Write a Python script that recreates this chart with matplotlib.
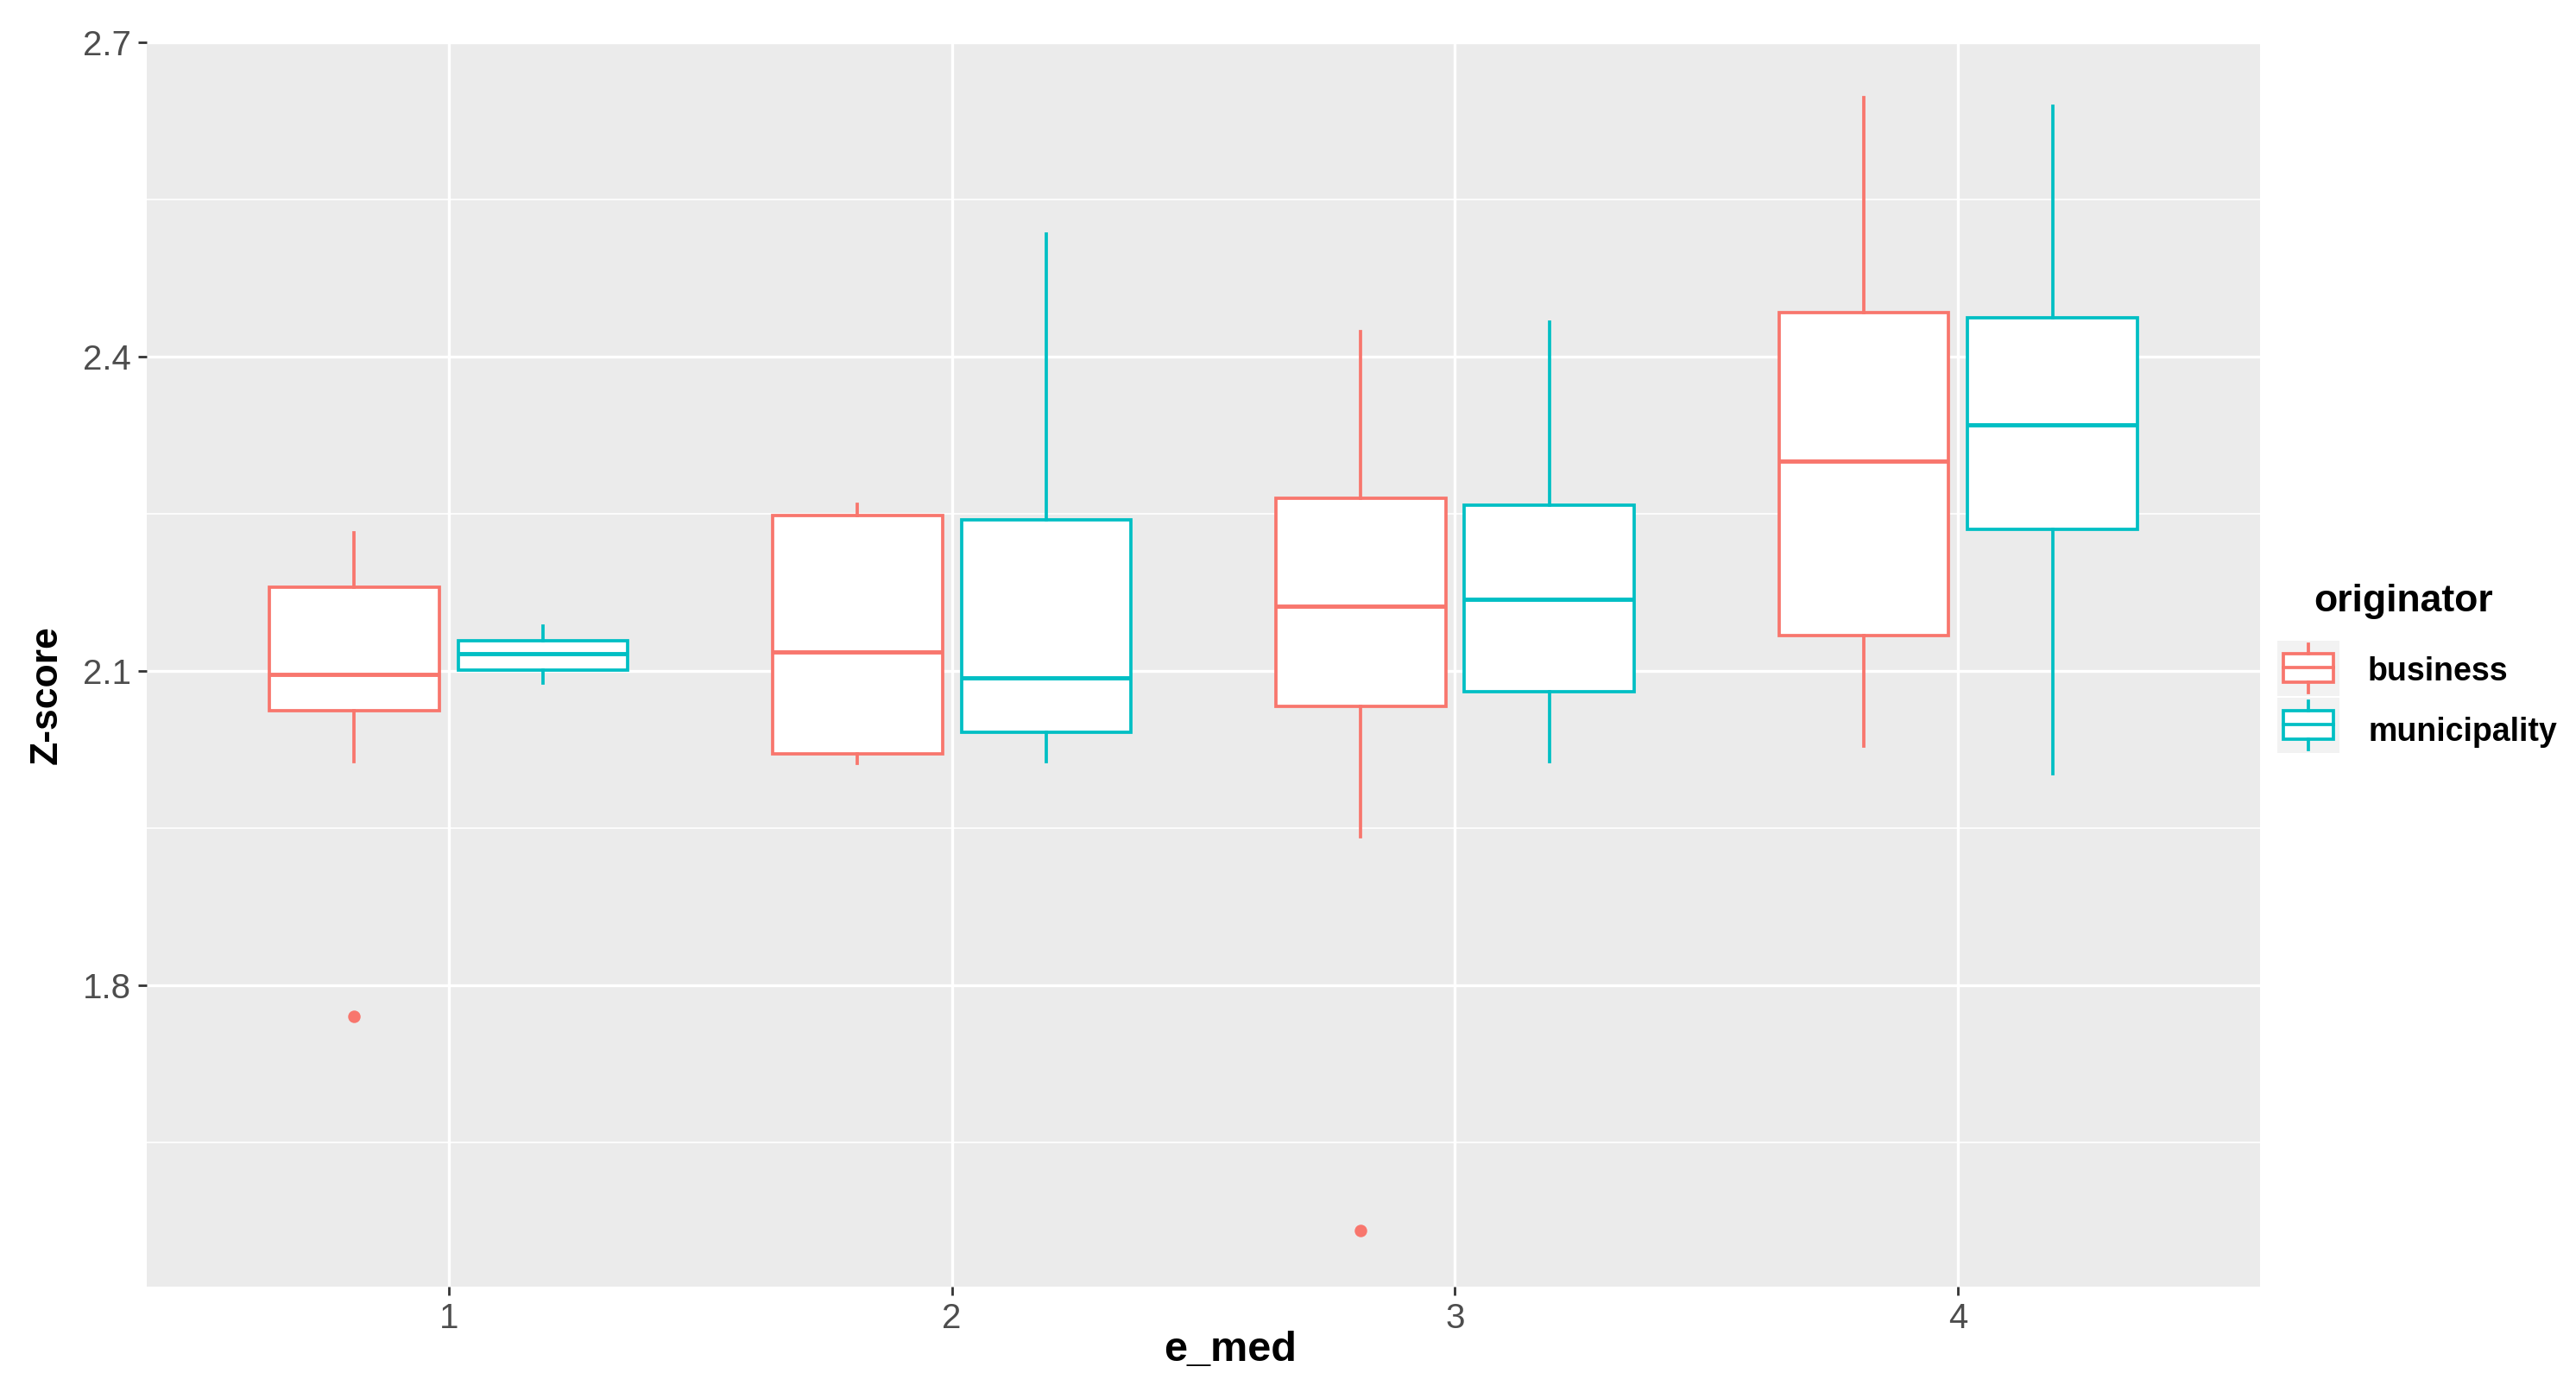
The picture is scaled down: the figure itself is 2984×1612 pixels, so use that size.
import matplotlib
matplotlib.use("Agg")
import matplotlib.pyplot as plt
from matplotlib.patches import Rectangle

plt.rcParams['font.family'] = ['Liberation Sans', 'DejaVu Sans']

# data
groups = ['1', '2', '3', '4']
originators = ['business', 'municipality']
colors = {'business': '#F8766D', 'municipality': '#00BFC4'}

business_low = [2.013, 2.012, 1.942, 2.028]
business_q1 = [2.062, 2.021, 2.066, 2.134]
business_med = [2.097, 2.118, 2.162, 2.300]
business_q3 = [2.180, 2.248, 2.265, 2.442]
business_high = [2.232, 2.259, 2.424, 2.647]
business_out = [[1.770], [], [1.566], []]

muni_low = [2.088, 2.013, 2.013, 2.002]
muni_q1 = [2.101, 2.041, 2.080, 2.235]
muni_med = [2.116, 2.093, 2.168, 2.335]
muni_q3 = [2.129, 2.244, 2.258, 2.437]
muni_high = [2.143, 2.517, 2.433, 2.639]
muni_out = [[], [], [], []]

y_major = [1.8, 2.1, 2.4, 2.7]
y_minor = [1.65, 1.95, 2.25, 2.55]

series = {
    'business': (business_low, business_q1, business_med, business_q3, business_high, business_out),
    'municipality': (muni_low, muni_q1, muni_med, muni_q3, muni_high, muni_out),
}

W, H = 2984, 1612
fig = plt.figure(figsize=(W / 200, H / 200), dpi=200)
ax = fig.add_axes([170 / W, 1 - 1490 / H, 2448 / W, 1442 / H])
ax.set_facecolor('#EBEBEB')
for s in ax.spines.values():
    s.set_visible(False)

lw = 1.35
offsets = {'business': -0.1875, 'municipality': 0.1875}
for name in originators:
    lo, q1, med, q3, hi, out = series[name]
    c = colors[name]
    stats = []
    for i in range(len(groups)):
        stats.append(dict(whislo=lo[i], q1=q1[i], med=med[i], q3=q3[i],
                          whishi=hi[i], fliers=out[i]))
    pos = [i + 1 + offsets[name] for i in range(len(groups))]
    ax.bxp(stats, positions=pos, widths=0.3375, patch_artist=True,
           showcaps=False, manage_ticks=False,
           boxprops=dict(facecolor='white', edgecolor=c, linewidth=lw),
           medianprops=dict(color=c, linewidth=lw * 1.3),
           whiskerprops=dict(color=c, linewidth=lw),
           flierprops=dict(marker='o', markerfacecolor=c, markeredgecolor=c,
                           markersize=4.2, linestyle='none'))

ax.set_xlim(0.4, 4.6)
ax.set_ylim(1.512, 2.701)
ax.set_xticks(range(1, len(groups) + 1))
ax.set_xticklabels(groups)
ax.set_yticks(y_major)
ax.set_yticklabels([f'{v:.1f}' for v in y_major])
ax.set_yticks(y_minor, minor=True)
ax.grid(which='major', color='white', linewidth=1.2)
ax.grid(which='minor', axis='y', color='white', linewidth=0.6)
ax.set_axisbelow(True)
ax.tick_params(which='major', length=3.6, width=1.0, color='#333333',
               labelcolor='#4D4D4D', labelsize=14.5, pad=2.8)
ax.tick_params(which='minor', length=0)

fig.text(1425 / W, 1 - 1564 / H, 'e_med', ha='center', va='center',
         fontsize=17.5, fontweight='bold')
fig.text(54 / W, 1 - 805 / H, 'Z-score', ha='center', va='center',
         rotation=90, fontsize=16, fontweight='bold')

# legend
fig.text(2680 / W, 1 - 708 / H, 'originator', ha='left', va='baseline',
         fontsize=16, fontweight='bold')
lax = fig.add_axes([2638 / W, 1 - 873 / H, 72 / W, 131 / H])
lax.set_xlim(2638, 2710)
lax.set_ylim(873, 742)
lax.axis('off')
key_tops = [742, 808]
label_base = [788, 858]
for name, top, base in zip(originators, key_tops, label_base):
    c = colors[name]
    kh = 64
    lax.add_patch(Rectangle((2638, top), 72, kh, facecolor='#F2F2F2', edgecolor='none'))
    b0, b1 = top + 0.23 * kh, top + 0.75 * kh
    lax.add_patch(Rectangle((2645, b0), 58, b1 - b0, facecolor='white',
                            edgecolor=c, linewidth=lw))
    lax.plot([2645, 2703], [top + 0.48 * kh] * 2, color=c, linewidth=lw)
    lax.plot([2674, 2674], [top + 0.06 * kh, b0], color=c, linewidth=lw)
    lax.plot([2674, 2674], [b1, top + 0.94 * kh], color=c, linewidth=lw)
    fig.text(2743 / W, 1 - base / H, name, ha='left', va='baseline',
             fontsize=13.5, fontweight='bold')

fig.savefig('out.png', dpi=200)
